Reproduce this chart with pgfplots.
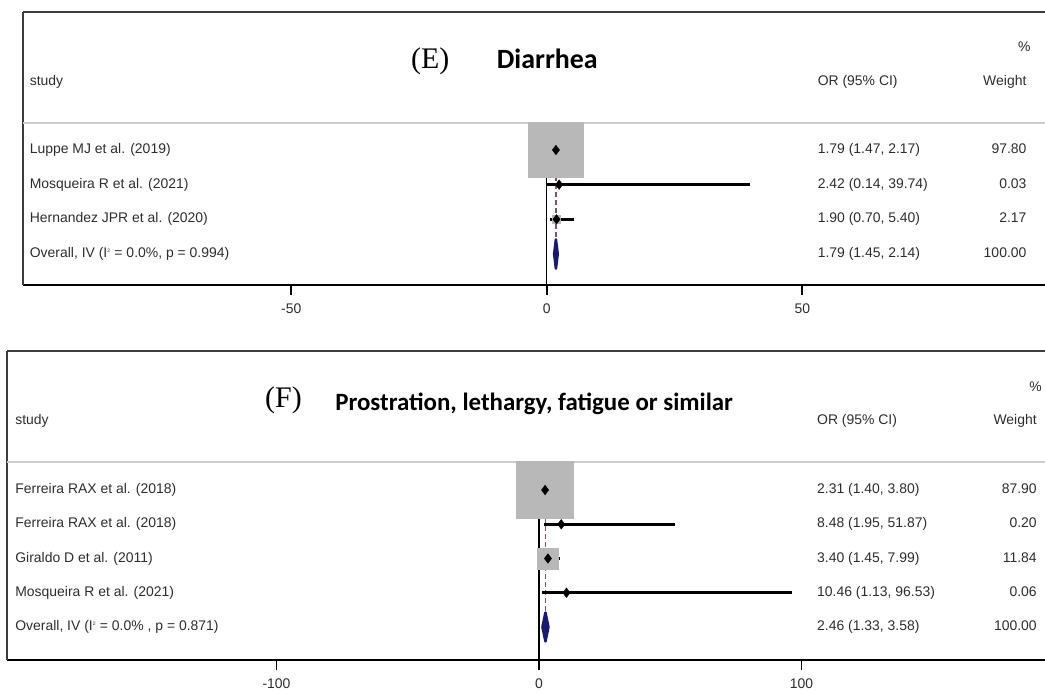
\documentclass[border=0pt]{standalone}
\usepackage{pgfplots}
\pgfplotsset{compat=1.18}
\usepackage{pgfplotstable}
\usepackage{fontspec}
\setmainfont{Liberation Sans}
\newfontfamily\headfont{Carlito}
\newfontfamily\letterfont{Liberation Serif}

\definecolor{txt}{RGB}{45,45,45}
\definecolor{boxgray}{RGB}{184,184,184}
\definecolor{navy}{RGB}{25,25,110}
\definecolor{refline}{RGB}{125,85,95}
\definecolor{sepgray}{RGB}{205,205,205}
\definecolor{frame}{RGB}{60,60,60}

% study-level odds ratios: row, estimate, 95% CI, weight (%)
\pgfplotstableread{
y est lo hi w
4 1.79 1.47 2.17 97.80
3 2.42 0.14 39.74 0.03
2 1.90 0.70 5.40 2.17
}\diarrhea
\pgfplotstableread{
y est lo hi w
5 2.31 1.40 3.80 87.90
4 8.48 1.95 51.87 0.20
3 3.40 1.45 7.99 11.84
2 10.46 1.13 96.53 0.06
}\prostration

\pgfplotsset{forest/.style={
  scale only axis, anchor=south west, clip=false,
  axis x line*=bottom, axis y line*=left,
  ytick=\empty,
  x axis line style={line width=2.6bp, black},
  y axis line style={line width=1.6bp, frame},
  xtick align=outside, major tick length=10bp,
  xtick style={line width=1.6bp, black},
  xticklabel style={font=\fontsize{14}{16}\selectfont, text=txt, yshift=-5bp},
}}
\tikzset{lab/.style={font=\fontsize{14}{16}\selectfont, text=txt, inner sep=0pt,
  text height=10.5bp, text depth=3.5bp}}

\begin{document}
\begin{tikzpicture}
\useasboundingbox (0,0) rectangle (1045bp,693bp);

% ---------- (E) Diarrhea ----------
\begin{axis}[forest, at={(23bp,408bp)}, width=1022bp, height=273bp,
  xmin=-102.5, xmax=97.5, ymin=0.106, ymax=7.98,
  xtick={-50,0,50}, xticklabels={-50,0,50}]
\draw[frame, line width=1.6bp] (rel axis cs:0,1) -- (rel axis cs:1,1);
\draw[sepgray, line width=1.2bp] (axis cs:-102.5,4.78) -- (axis cs:97.5,4.78);
% weight boxes
\addplot[scatter, only marks, mark=square*,
  scatter/use mapped color={draw=boxgray, fill=boxgray},
  visualization depends on={\thisrow{w} \as \wt},
  scatter/@pre marker code/.append style={/tikz/mark size={27.5bp*sqrt(\wt/97.8)}}]
  table[x=est, y=y]{\diarrhea};
% line of no effect and pooled estimate
\addplot[black, line width=1.3bp] coordinates {(0,0.106) (0,4.78)};
\addplot[refline, dash pattern=on 5bp off 3bp, line width=1.3bp] coordinates {(1.79,4.63) (1.79,1.45)};
% estimates with confidence intervals
\addplot[only marks, mark=diamond*, mark size=4.8bp, black,
  error bars/.cd, x dir=both, x explicit, error mark=none,
  error bar style={line width=3bp, black}]
  table[x=est, y=y, x error plus expr={\thisrow{hi}-\thisrow{est}},
        x error minus expr={\thisrow{est}-\thisrow{lo}}]{\diarrhea};
% overall diamond
\addplot[fill=navy, draw=navy, line width=2.6bp, line join=round]
  coordinates {(1.45,1) (1.79,1.42) (2.14,1) (1.79,0.58) (1.45,1)};
% text columns
\node[font=\letterfont\fontsize{30}{32}\selectfont, anchor=base west, inner sep=0pt] at (axis cs:-26.6,6.36) {(E)};
\node[font=\headfont\bfseries\fontsize{28}{30}\selectfont, anchor=base west, inner sep=0pt] at (axis cs:-9.8,6.36) {Diarrhea};
\node[lab, anchor=west] at (axis cs:-101.2,5.96) {study};
\node[lab, anchor=west] at (axis cs:53.0,5.96) {OR (95\% CI)};
\node[lab, anchor=east] at (axis cs:93.9,5.96) {Weight};
\node[lab, anchor=east] at (axis cs:94.7,6.94) {\%};
\node[lab, anchor=west] at (axis cs:-101.2,4) {Luppe MJ et al. (2019)};
\node[lab, anchor=west] at (axis cs:-101.2,3) {Mosqueira R et al. (2021)};
\node[lab, anchor=west] at (axis cs:-101.2,2) {Hernandez JPR et al. (2020)};
\node[lab, anchor=west] at (axis cs:-101.2,1) {Overall, IV (I\textsuperscript{\tiny 2} = 0.0\%, p = 0.994)};
\node[lab, anchor=west] at (axis cs:53.0,4) {1.79 (1.47, 2.17)};
\node[lab, anchor=west] at (axis cs:53.0,3) {2.42 (0.14, 39.74)};
\node[lab, anchor=west] at (axis cs:53.0,2) {1.90 (0.70, 5.40)};
\node[lab, anchor=west] at (axis cs:53.0,1) {1.79 (1.45, 2.14)};
\node[lab, anchor=east] at (axis cs:93.9,4) {97.80};
\node[lab, anchor=east] at (axis cs:93.9,3) {0.03};
\node[lab, anchor=east] at (axis cs:93.9,2) {2.17};
\node[lab, anchor=east] at (axis cs:93.9,1) {100.00};
\end{axis}

% ---------- (F) Prostration ----------
\begin{axis}[forest, at={(7bp,33bp)}, width=1038bp, height=309bp,
  xmin=-202.7, xmax=192.8, ymin=0.036, ymax=9.06,
  xtick={-100,0,100}, xticklabels={-100,0,100}]
\draw[frame, line width=1.6bp] (rel axis cs:0,1) -- (rel axis cs:1,1);
\draw[sepgray, line width=1.2bp] (axis cs:-202.7,5.82) -- (axis cs:192.8,5.82);
\addplot[scatter, only marks, mark=square*,
  scatter/use mapped color={draw=boxgray, fill=boxgray},
  visualization depends on={\thisrow{w} \as \wt},
  scatter/@pre marker code/.append style={/tikz/mark size={28.5bp*sqrt(\wt/87.9)}}]
  table[x=est, y=y]{\prostration};
\addplot[black, line width=1.3bp] coordinates {(0,0.036) (0,5.82)};
\addplot[refline, dash pattern=on 5bp off 3bp, line width=1.3bp] coordinates {(2.46,5.58) (2.46,1.45)};
\addplot[only marks, mark=diamond*, mark size=4.8bp, black,
  error bars/.cd, x dir=both, x explicit, error mark=none,
  error bar style={line width=3bp, black}]
  table[x=est, y=y, x error plus expr={\thisrow{hi}-\thisrow{est}},
        x error minus expr={\thisrow{est}-\thisrow{lo}}]{\prostration};
\addplot[fill=navy, draw=navy, line width=2.6bp, line join=round]
  coordinates {(1.33,1) (2.46,1.42) (3.58,1) (2.46,0.58) (1.33,1)};
\node[font=\letterfont\fontsize{30}{32}\selectfont, anchor=base west, inner sep=0pt] at (axis cs:-104.4,7.42) {(F)};
\node[font=\headfont\bfseries\fontsize{25}{28}\selectfont, anchor=base west, inner sep=0pt] at (axis cs:-77.7,7.31) {Prostration, lethargy, fatigue or similar};
\node[lab, anchor=west] at (axis cs:-199.6,7.01) {study};
\node[lab, anchor=west] at (axis cs:105.9,7.01) {OR (95\% CI)};
\node[lab, anchor=east] at (axis cs:189.7,7.01) {Weight};
\node[lab, anchor=east] at (axis cs:191.6,7.98) {\%};
\node[lab, anchor=west] at (axis cs:-199.6,5) {Ferreira RAX et al. (2018)};
\node[lab, anchor=west] at (axis cs:-199.6,4) {Ferreira RAX et al. (2018)};
\node[lab, anchor=west] at (axis cs:-199.6,3) {Giraldo D et al. (2011)};
\node[lab, anchor=west] at (axis cs:-199.6,2) {Mosqueira R et al. (2021)};
\node[lab, anchor=west] at (axis cs:-199.6,1) {Overall, IV (I\textsuperscript{\tiny 2} = 0.0\% , p = 0.871)};
\node[lab, anchor=west] at (axis cs:105.9,5) {2.31 (1.40, 3.80)};
\node[lab, anchor=west] at (axis cs:105.9,4) {8.48 (1.95, 51.87)};
\node[lab, anchor=west] at (axis cs:105.9,3) {3.40 (1.45, 7.99)};
\node[lab, anchor=west] at (axis cs:105.9,2) {10.46 (1.13, 96.53)};
\node[lab, anchor=west] at (axis cs:105.9,1) {2.46 (1.33, 3.58)};
\node[lab, anchor=east] at (axis cs:189.7,5) {87.90};
\node[lab, anchor=east] at (axis cs:189.7,4) {0.20};
\node[lab, anchor=east] at (axis cs:189.7,3) {11.84};
\node[lab, anchor=east] at (axis cs:189.7,2) {0.06};
\node[lab, anchor=east] at (axis cs:189.7,1) {100.00};
\end{axis}
\end{tikzpicture}
\end{document}
